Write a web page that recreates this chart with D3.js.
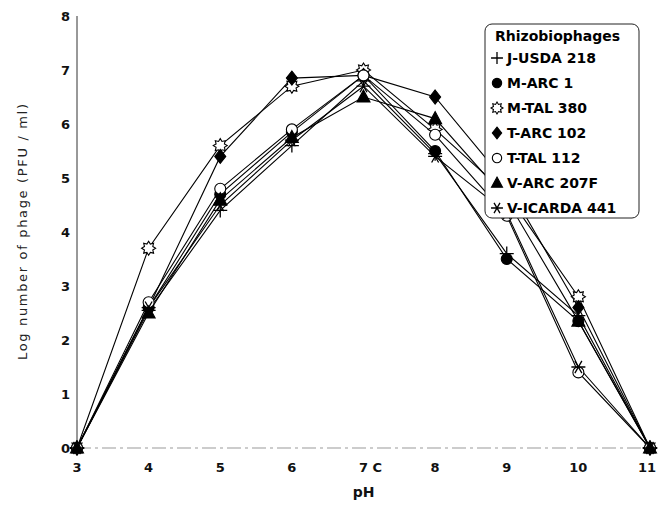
<!DOCTYPE html>
<html lang="en">
<head>
    <meta charset="UTF-8">
    <title>Log number of phage vs pH</title>
    <script src="https://d3js.org/d3.v7.min.js"></script>
    <style>
        body { margin: 0; background: #fff; }
        text { font-family: "DejaVu Sans", "Liberation Sans", Arial, sans-serif; }
    </style>
</head>
<body>
    <div id="chart"></div>
    <script>
        // pH values on the x axis
        var phValues = [3, 4, 5, 6, 7, 8, 9, 10, 11];
        var phLabels = ["3", "4", "5", "6", "7 C", "8", "9", "10", "11"];
        var yTicks = [0, 1, 2, 3, 4, 5, 6, 7, 8];

        // log phage counts
        var jUsda218   = [0, 2.55, 4.4, 5.6, 6.8, 5.45, 3.6, 2.45, 0];
        var mArc1      = [0, 2.6, 4.7, 5.85, 6.9, 5.5, 3.5, 2.35, 0];
        var mTal380    = [0, 3.7, 5.6, 6.7, 7.0, 5.9, 4.7, 2.8, 0];
        var tArc102    = [0, 2.6, 5.4, 6.85, 6.9, 6.5, 4.9, 2.6, 0];
        var tTal112    = [0, 2.7, 4.8, 5.9, 6.9, 5.8, 4.3, 1.4, 0];
        var vArc207F   = [0, 2.5, 4.6, 5.75, 6.5, 6.1, 4.6, 2.35, 0];
        var vIcarda441 = [0, 2.6, 4.5, 5.7, 6.7, 5.4, 4.35, 1.5, 0];

        var seriesNames = ["J-USDA 218", "M-ARC 1", "M-TAL 380", "T-ARC 102", "T-TAL 112", "V-ARC 207F", "V-ICARDA 441"];
        var seriesValues = [jUsda218, mArc1, mTal380, tArc102, tTal112, vArc207F, vIcarda441];
        var markerKinds = ["plus", "dot", "sun", "diamond", "ring", "triangle", "asterisk"];

        var width = 658, height = 508;
        var margin = {top: 16, right: 8, bottom: 60, left: 77};

        var x = d3.scaleLinear().domain([3, 11]).range([margin.left, width - margin.right]);
        var y = d3.scaleLinear().domain([0, 8]).range([height - margin.bottom, margin.top]);

        var svg = d3.select("#chart").append("svg")
            .attr("width", width)
            .attr("height", height);

        // faint dash-dot baseline like the scan
        svg.append("line")
            .attr("x1", x(3)).attr("x2", x(11))
            .attr("y1", y(0)).attr("y2", y(0))
            .attr("stroke", "#999")
            .attr("stroke-width", 1)
            .attr("stroke-dasharray", "14,4,3,4");

        // y axis line
        svg.append("line")
            .attr("x1", x(3)).attr("x2", x(3))
            .attr("y1", y(0)).attr("y2", y(8))
            .attr("stroke", "#333")
            .attr("stroke-width", 1);

        // tick labels
        svg.selectAll(".ytick").data(yTicks).enter().append("text")
            .attr("x", x(3) - 7)
            .attr("y", d => y(d) + 5)
            .attr("text-anchor", "end")
            .attr("font-size", 13)
            .attr("font-weight", "bold")
            .attr("fill", "#111")
            .text(d => d);

        svg.selectAll(".xtick").data(phValues).enter().append("text")
            .attr("x", (d, i) => x(d) + (i == 4 ? 7 : i == 8 ? -3 : 0))
            .attr("y", y(0) + 24)
            .attr("text-anchor", "middle")
            .attr("font-size", 13)
            .attr("font-weight", "bold")
            .attr("fill", "#111")
            .text((d, i) => phLabels[i]);

        // axis titles
        svg.append("text")
            .attr("x", x(7))
            .attr("y", y(0) + 49)
            .attr("text-anchor", "middle")
            .attr("font-size", 14)
            .attr("font-weight", "bold")
            .attr("fill", "#111")
            .text("pH");

        svg.append("text")
            .attr("transform", "translate(27," + y(4) + ") rotate(-90)")
            .attr("text-anchor", "middle")
            .attr("font-size", 13)
            .attr("textLength", 256)
            .attr("fill", "#222")
            .text("Log number of phage (PFU / ml)");

        // marker shapes
        function markerPath(kind, k) {
            var p = d3.path();
            if (kind == "plus") {
                p.moveTo(-7 * k, 0); p.lineTo(7 * k, 0);
                p.moveTo(0, -7 * k); p.lineTo(0, 7 * k);
            } else if (kind == "dot" || kind == "ring") {
                p.arc(0, 0, 5.5 * k, 0, 2 * Math.PI);
            } else if (kind == "sun") {
                for (var n = 0; n < 16; n++) {
                    var a = n * Math.PI / 8 - Math.PI / 2;
                    var r = (n % 2 == 0 ? 7 : 4.5) * k;
                    if (n == 0) p.moveTo(r * Math.cos(a), r * Math.sin(a));
                    else p.lineTo(r * Math.cos(a), r * Math.sin(a));
                }
                p.closePath();
            } else if (kind == "diamond") {
                p.moveTo(0, -7 * k); p.lineTo(5.5 * k, 0); p.lineTo(0, 7 * k); p.lineTo(-5.5 * k, 0); p.closePath();
            } else if (kind == "triangle") {
                p.moveTo(0, -7 * k); p.lineTo(6.5 * k, 5 * k); p.lineTo(-6.5 * k, 5 * k); p.closePath();
            } else if (kind == "asterisk") {
                for (var j = 0; j < 3; j++) {
                    var b = j * Math.PI / 3;
                    p.moveTo(-7 * k * Math.cos(b), -7 * k * Math.sin(b));
                    p.lineTo(7 * k * Math.cos(b), 7 * k * Math.sin(b));
                }
            }
            return p.toString();
        }

        function drawMarker(g, kind, k) {
            var filled = (kind == "dot" || kind == "diamond" || kind == "triangle");
            var hollow = (kind == "sun" || kind == "ring");
            g.append("path")
                .attr("d", markerPath(kind, k || 1))
                .attr("fill", filled ? "#000" : hollow ? "#fff" : "none")
                .attr("stroke", "#000")
                .attr("stroke-width", kind == "plus" || kind == "asterisk" ? 1.3 : 1.1);
        }

        var line = d3.line()
            .x((d, i) => x(phValues[i]))
            .y(d => y(d));

        // lines
        seriesValues.forEach(function(vals) {
            svg.append("path")
                .datum(vals)
                .attr("d", line)
                .attr("fill", "none")
                .attr("stroke", "#000")
                .attr("stroke-width", 1.1);
        });

        // markers
        seriesValues.forEach(function(vals, s) {
            vals.forEach(function(v, i) {
                var g = svg.append("g")
                    .attr("transform", "translate(" + x(phValues[i]) + "," + y(v) + ")");
                drawMarker(g, markerKinds[s], 1);
            });
        });

        // legend
        var legend = svg.append("g").attr("transform", "translate(485,24)");
        legend.append("rect")
            .attr("width", 154)
            .attr("height", 194)
            .attr("rx", 7)
            .attr("fill", "#fff")
            .attr("stroke", "#222")
            .attr("stroke-width", 1);
        legend.append("text")
            .attr("x", 10)
            .attr("y", 17)
            .attr("font-size", 14)
            .attr("font-weight", "bold")
            .text("Rhizobiophages");

        seriesNames.forEach(function(name, s) {
            var row = legend.append("g").attr("transform", "translate(12," + (34 + s * 25) + ")");
            drawMarker(row, markerKinds[s], 0.85);
            row.append("text")
                .attr("x", 10)
                .attr("y", 5)
                .attr("font-size", 14)
                .attr("font-weight", "bold")
                .text(name);
        });
    </script>
</body>
</html>
